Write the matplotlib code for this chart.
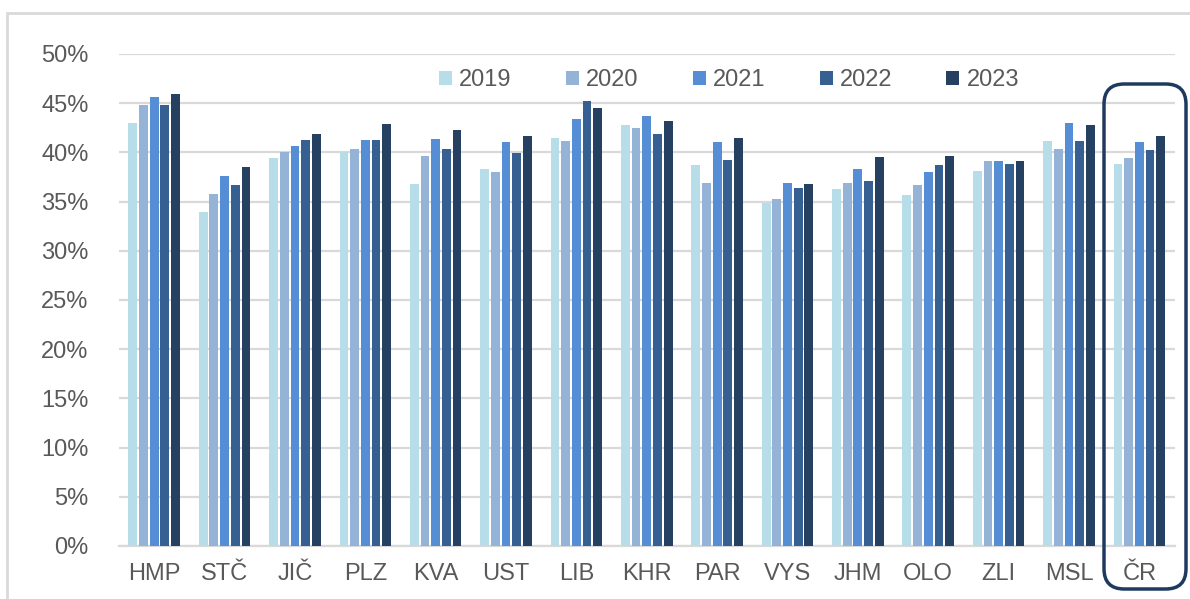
import matplotlib.pyplot as plt
import numpy as np
from matplotlib.patches import FancyBboxPatch, Rectangle

plt.rcParams["font.family"] = ["Liberation Sans", "DejaVu Sans"]

regions = ["HMP", "STČ", "JIČ", "PLZ", "KVA", "UST", "LIB", "KHR",
           "PAR", "VYS", "JHM", "OLO", "ZLI", "MSL", "ČR"]
years = ["2019", "2020", "2021", "2022", "2023"]

v2019 = [43.0, 33.9, 39.4, 40.0, 36.8, 38.3, 41.5, 42.8, 38.7, 34.9, 36.3, 35.7, 38.1, 41.1, 38.8]
v2020 = [44.8, 35.8, 40.0, 40.3, 39.6, 38.0, 41.1, 42.5, 36.9, 35.3, 36.9, 36.7, 39.1, 40.3, 39.4]
v2021 = [45.6, 37.6, 40.6, 41.3, 41.4, 41.0, 43.4, 43.7, 41.0, 36.9, 38.3, 38.0, 39.1, 43.0, 41.0]
v2022 = [44.8, 36.7, 41.3, 41.3, 40.3, 39.9, 45.2, 41.9, 39.2, 36.4, 37.1, 38.7, 38.8, 41.1, 40.2]
v2023 = [45.9, 38.5, 41.9, 42.9, 42.3, 41.7, 44.5, 43.2, 41.5, 36.8, 39.5, 39.6, 39.1, 42.8, 41.7]
series = [v2019, v2020, v2021, v2022, v2023]

colors = ["#B7DEE8", "#95B3D7", "#558ED5", "#376092", "#254061"]
txt = "#595959"
grid = "#D9D9D9"

fig = plt.figure(figsize=(11.9, 5.99), dpi=100)
ax = fig.add_axes([0.100, 0.0885, 0.887, 0.8215])

x = np.arange(len(regions))
step = 0.152
w = 0.125
for i, (vals, c, yr) in enumerate(zip(series, colors, years)):
    ax.bar(x + (i - 2) * step, np.array(vals) / 100, width=w, color=c,
           label=yr, zorder=3)

ax.set_ylim(0, 0.5)
ax.set_xlim(-0.5, len(regions) - 0.5)
ticks = np.arange(0, 0.51, 0.05)
ax.set_yticks(ticks)
ax.set_yticklabels([f"{int(round(t * 100))}%" for t in ticks])
ax.set_xticks(x)
ax.set_xticklabels(regions)
ax.tick_params(axis="both", length=0, labelsize=17, labelcolor=txt)
ax.tick_params(axis="x", pad=12)
ax.tick_params(axis="y", pad=22)
ax.yaxis.grid(True, color=grid, linewidth=1.6, zorder=0)
for s in ["top", "right", "left"]:
    ax.spines[s].set_visible(False)
ax.spines["bottom"].set_color(grid)
ax.spines["bottom"].set_linewidth(1.6)

leg = ax.legend(loc="center", bbox_to_anchor=(0.6126, 0.866), bbox_transform=fig.transFigure,
                ncol=5, frameon=False, fontsize=17, handlelength=0.55, handleheight=0.55,
                handletextpad=0.3, columnspacing=2.3)
for t in leg.get_texts():
    t.set_color(txt)

# outer border
fig.patches.append(Rectangle((7 / 1190, -0.05), 1.1, 1 - 13 / 599 + 0.05,
                             transform=fig.transFigure, fill=False,
                             edgecolor=grid, linewidth=2))

# highlight box around ČR
fig.patches.append(FancyBboxPatch((1104 / 1190, 1 - 589 / 599), 82 / 1190, 505 / 599,
                                  boxstyle="round,pad=0,rounding_size=0.017",
                                  transform=fig.transFigure, fill=False,
                                  edgecolor="#1F3A5F", linewidth=2.5,
                                  mutation_aspect=1190 / 599))

fig.savefig("out.png", dpi=100)
